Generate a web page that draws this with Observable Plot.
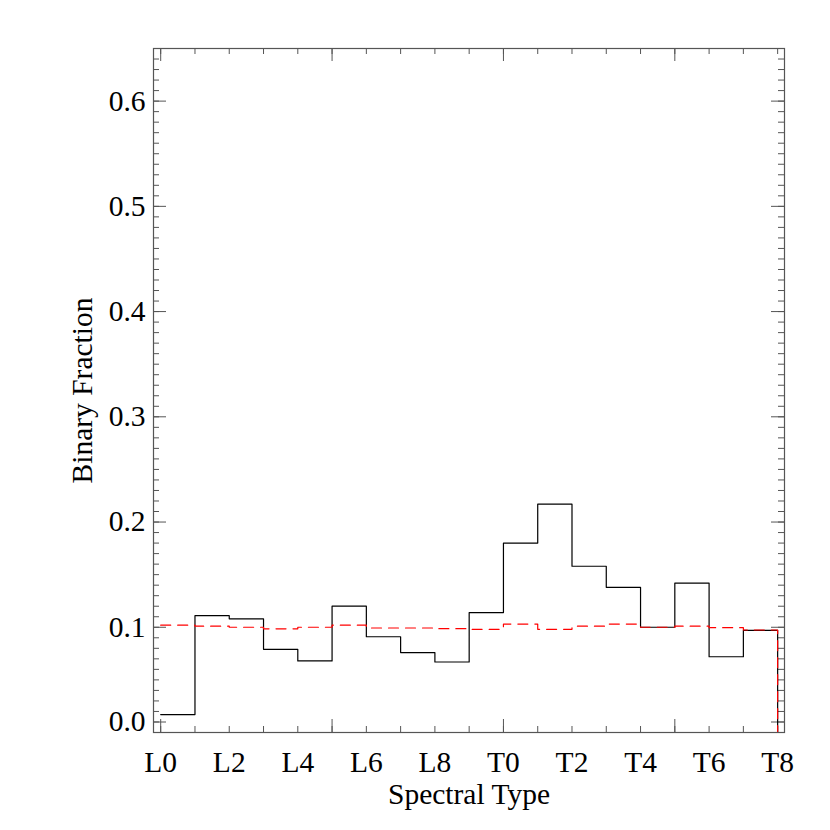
<!DOCTYPE html>
<html><head><meta charset="utf-8">
<script src="https://cdn.jsdelivr.net/npm/d3@7"></script>
<script src="https://cdn.jsdelivr.net/npm/@observablehq/plot@0.6"></script>
<style>body{margin:0;background:#fff} #chart{width:830px;height:830px}</style>
</head><body><div id="chart"></div>
<script>
// Spectral-type bins (index 0 = L0 ... 18 = T8)
const spectralTypes = ["L0","L1","L2","L3","L4","L5","L6","L7","L8","L9","T0","T1","T2","T3","T4","T5","T6","T7","T8"];
// Observed binary fraction per bin (black histogram)
const binaryFraction = [0.017, 0.111, 0.108, 0.079, 0.068, 0.120, 0.091, 0.076, 0.067, 0.114, 0.180, 0.217, 0.158, 0.138, 0.100, 0.142, 0.072, 0.097];
// Model / input binary fraction per bin (red dashed histogram)
const modelFraction = [0.102, 0.101, 0.100, 0.0985, 0.100, 0.102, 0.0993, 0.0993, 0.0987, 0.098, 0.103, 0.098, 0.101, 0.103, 0.100, 0.101, 0.0996, 0.0974];
// Axis tick labels
const xTickLabels = ["L0","L2","L4","L6","L8","T0","T2","T4","T6","T8"];
const yTickValues = [0.1, 0.2, 0.3, 0.4, 0.5, 0.6];
const yZeroLabel = "0.0";
const xTitle = "Spectral Type";
const yTitle = "Binary Fraction";

const W = 830, H = 830;
const mt = 48, mr = 46, mb = 98, ml = 153;
const innerW = W - ml - mr, innerH = H - mt - mb;
const major = 13, minor = 6;
const axisColor = "#555";

const toSteps = arr => arr.map((v, i) => ({x: i, y: v})).concat([{x: arr.length, y: 0}]);
const obsSteps = toSteps(binaryFraction);
const modSteps = toSteps(modelFraction);

const xLabelData = xTickLabels.map(l => ({x: spectralTypes.indexOf(l), t: l}));
const xMinor = spectralTypes.map((s, i) => i);
const xMajor = xMinor.filter(i => i % 5 === 0);
const yMinor = d3.range(1, 65).map(i => i / 100);

const font = "Liberation Serif, Times New Roman, serif";
const fs = 29.5;

const chart = Plot.plot({
  width: W, height: H,
  marginTop: mt, marginRight: mr, marginBottom: mb, marginLeft: ml,
  style: {fontFamily: font, background: "white"},
  x: {domain: [-0.21, 18.2], axis: null},
  y: {domain: [0, 0.65], axis: null},
  marks: [
    // ticks bottom / top
    Plot.ruleX(xMinor, {x: d => d, insetTop: innerH - minor, stroke: axisColor}),
    Plot.ruleX(xMajor, {x: d => d, insetTop: innerH - major, stroke: axisColor}),
    Plot.ruleX(xMinor, {x: d => d, insetBottom: innerH - minor, stroke: axisColor}),
    Plot.ruleX(xMajor, {x: d => d, insetBottom: innerH - major, stroke: axisColor}),
    // ticks left / right
    Plot.ruleY(yMinor, {y: d => d, insetRight: innerW - minor, stroke: axisColor}),
    Plot.ruleY(yTickValues, {y: d => d, insetRight: innerW - major, stroke: axisColor}),
    Plot.ruleY([0], {y: d => d, dy: -10.5, insetRight: innerW - major, stroke: axisColor}),
    Plot.ruleY(yMinor, {y: d => d, insetLeft: innerW - minor, stroke: axisColor}),
    Plot.ruleY(yTickValues, {y: d => d, insetLeft: innerW - major, stroke: axisColor}),
    Plot.ruleY([0], {y: d => d, dy: -10.5, insetLeft: innerW - major, stroke: axisColor}),
    // histograms
    Plot.line(obsSteps, {x: "x", y: "y", curve: "step-after", stroke: "black", strokeWidth: 1.2}),
    Plot.line(modSteps, {x: "x", y: "y", curve: "step-after", stroke: "#ff0000", strokeWidth: 1.2, strokeDasharray: "10,7"}),
    Plot.frame({stroke: axisColor, strokeWidth: 1.2}),
    // tick labels
    Plot.text(xLabelData, {x: "x", text: "t", frameAnchor: "bottom", dy: 30, lineAnchor: "middle", fontSize: fs, fill: "black"}),
    Plot.text(yTickValues, {y: d => d, text: d => d.toFixed(1), frameAnchor: "left", dx: -8, textAnchor: "end", lineAnchor: "middle", fontSize: fs, fill: "black"}),
    Plot.text([0], {y: d => d, text: () => yZeroLabel, frameAnchor: "left", dx: -8, dy: -10.5, textAnchor: "end", lineAnchor: "middle", fontSize: fs, fill: "black"}),
    // axis titles
    Plot.text([xTitle], {text: d => d, frameAnchor: "bottom", dy: 62, textAnchor: "middle", lineAnchor: "middle", fontSize: fs, fill: "black"}),
    Plot.text([yTitle], {text: d => d, frameAnchor: "left", dx: -71, rotate: -90, textAnchor: "middle", lineAnchor: "middle", fontSize: fs, fill: "black"})
  ]
});
document.getElementById("chart").appendChild(chart);
</script>
</body></html>
